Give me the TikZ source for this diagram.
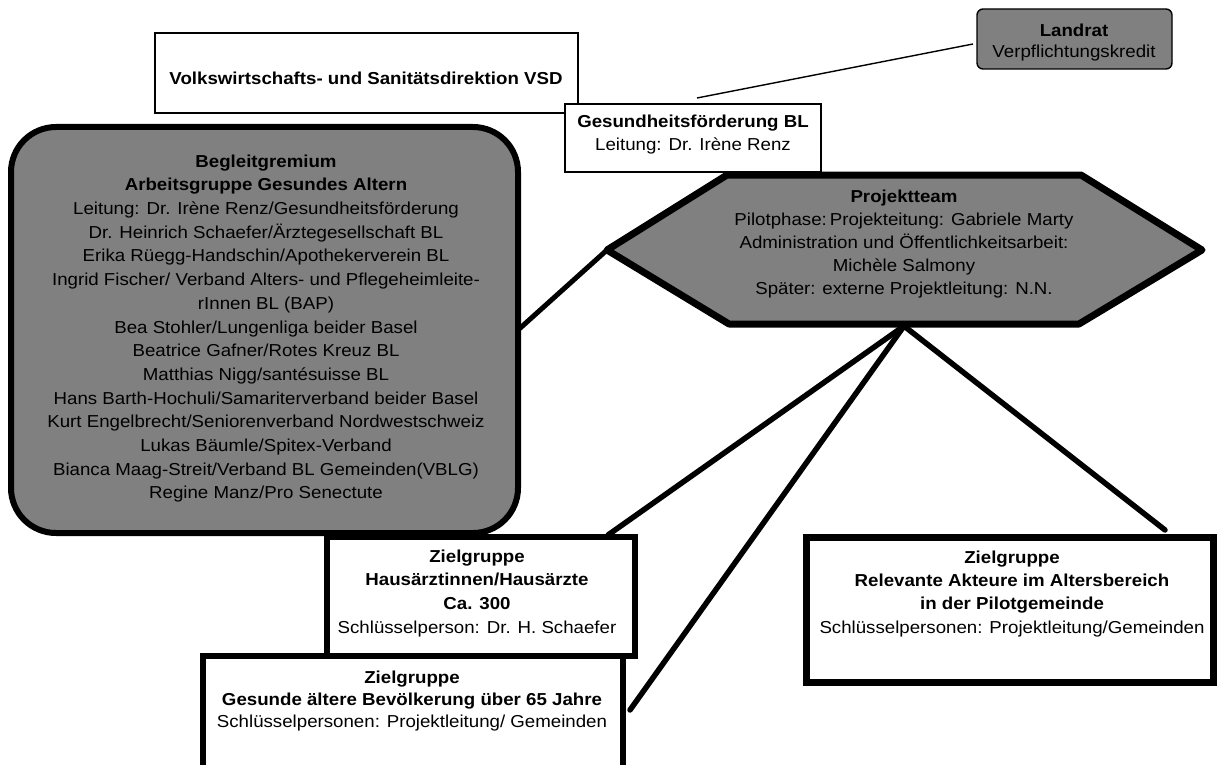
\documentclass[tikz,border=0pt]{standalone}
\usepackage{fontspec}
\setmainfont{Liberation Sans}[FakeStretch=1.08]
\usetikzlibrary{calc}
\definecolor{boxgray}{RGB}{128,128,128}
\begin{document}
\begin{tikzpicture}[x=1pt,y=-1pt,
  thinbox/.style={draw=black, line width=1.4pt, fill=white, inner sep=0pt, outer sep=0pt},
  thickbox/.style={draw=black, line width=6pt, fill=white, inner sep=0pt, outer sep=0pt},
  graybox/.style={draw=black, fill=boxgray, inner sep=0pt, outer sep=0pt},
  txt/.style={inner sep=0pt, outer sep=0pt, align=center, anchor=north},
  conn/.style={line width=5.5pt, line cap=round},
  thinconn/.style={line width=1.4pt}]
\useasboundingbox (0,0) rectangle (1218,765);
\clip (0,0) rectangle (1218,765);
\fill[white] (0,0) rectangle (1218,765);

% top boxes
\node[thinbox, minimum width=423pt, minimum height=80pt] (vsd) at (366.5,73) {};
\node[txt, font=\fontsize{17.3}{23}\selectfont\bfseries] (vsdt) at (366,71.6)
  {Volkswirtschafts- und Sanitätsdirektion VSD};

\node[graybox, line width=1.4pt, rounded corners=6pt, minimum width=195pt, minimum height=60pt] (land) at (1074.5,39) {};
\node[txt, font=\fontsize{17.3}{21}\selectfont] (landt) at (1074,23.6)
  {\textbf{Landrat}\\Verpflichtungskredit};

\node[thinbox, minimum width=256pt, minimum height=68pt] (gf) at (693,138) {};
\node[txt, font=\fontsize{17.3}{23}\selectfont] (gft) at (693,114.6)
  {\textbf{Gesundheitsförderung BL}\\Leitung: Dr. Irène Renz};

\draw[thinconn] ($(gf.north)+(4,-6)$) -- ($(land.west)+(-4,5)$);

% Begleitgremium
\node[graybox, line width=6pt, rounded corners=45pt, minimum width=507pt, minimum height=406pt] (beg) at (264.5,330) {};
\node[txt, font=\fontsize{17.3}{23.7}\selectfont] (begt) at (266,154.6)
  {\textbf{Begleitgremium}\\
   \textbf{Arbeitsgruppe Gesundes Altern}\\
   Leitung: Dr. Irène Renz/Gesundheitsförderung\\
   Dr. Heinrich Schaefer/Ärztegesellschaft BL\\
   Erika Rüegg-Handschin/Apothekerverein BL\\
   Ingrid Fischer/ Verband Alters- und Pflegeheimleite-\\
   rInnen BL (BAP)\\
   Bea Stohler/Lungenliga beider Basel\\
   Beatrice Gafner/Rotes Kreuz BL\\
   Matthias Nigg/santésuisse BL\\
   Hans Barth-Hochuli/Samariterverband beider Basel\\
   Kurt Engelbrecht/Seniorenverband Nordwestschweiz\\
   Lukas Bäumle/Spitex-Verband\\
   Bianca Maag-Streit/Verband BL Gemeinden(VBLG)\\
   Regine Manz/Pro Senectute};

% Projektteam hexagon
\coordinate (hL) at (607,250);
\coordinate (hTL) at (727,175);
\coordinate (hTR) at (1081,175);
\coordinate (hR) at (1202,250);
\coordinate (hBR) at (1079,324);
\coordinate (hBL) at (729,324);
\coordinate (hB) at (904,326);
\filldraw[fill=boxgray, draw=black, line width=7pt, line join=round]
  (hL) -- (hTL) -- (hTR) -- (hR) -- (hBR) -- (hBL) -- cycle;
\node[txt, font=\fontsize{17.3}{23}\selectfont] (proj) at (904,189.6)
  {\textbf{Projektteam}\\
   Pilotphase:\hspace{3pt}Projekteitung: Gabriele Marty\\
   Administration und Öffentlichkeitsarbeit:\\
   Michèle Salmony\\
   Später: externe Projektleitung: N.N.};

% Zielgruppen
\node[thickbox, minimum width=420pt, minimum height=144pt] (ges) at (413,728) {};
\node[txt, font=\fontsize{17.3}{22}\selectfont] (gest) at (412,670.6)
  {\textbf{Zielgruppe}\\
   \textbf{Gesunde ältere Bevölkerung über 65 Jahre}\\
   Schlüsselpersonen: Projektleitung/ Gemeinden};

\node[thickbox, minimum width=308pt, minimum height=119pt] (haus) at (481,596.5) {};
\node[txt, font=\fontsize{17.3}{23.7}\selectfont] (haust) at (477,549.6)
  {\textbf{Zielgruppe}\\
   \textbf{Hausärztinnen/Hausärzte}\\
   \textbf{Ca. 300}\\
   Schlüsselperson: Dr. H. Schaefer};

\node[thickbox, line width=7pt, minimum width=407pt, minimum height=145pt] (rel) at (1009.5,609.5) {};
\node[txt, font=\fontsize{17.3}{23.3}\selectfont] (relt) at (1012,550.6)
  {\textbf{Zielgruppe}\\
   \textbf{Relevante Akteure im Altersbereich}\\
   \textbf{in der Pilotgemeinde}\\
   Schlüsselpersonen: Projektleitung/Gemeinden};

% connectors
\draw[conn, line width=5pt] (beg.east) -- (hL);
\draw[conn] (hB) -- ($(haus.north east)+(-27,-2)$);
\draw[conn] (hB) -- ($(ges.north east)+(7,54)$);
\draw[conn] (hB) -- ($(rel.north east)+(-48,-7)$);
\end{tikzpicture}
\end{document}
